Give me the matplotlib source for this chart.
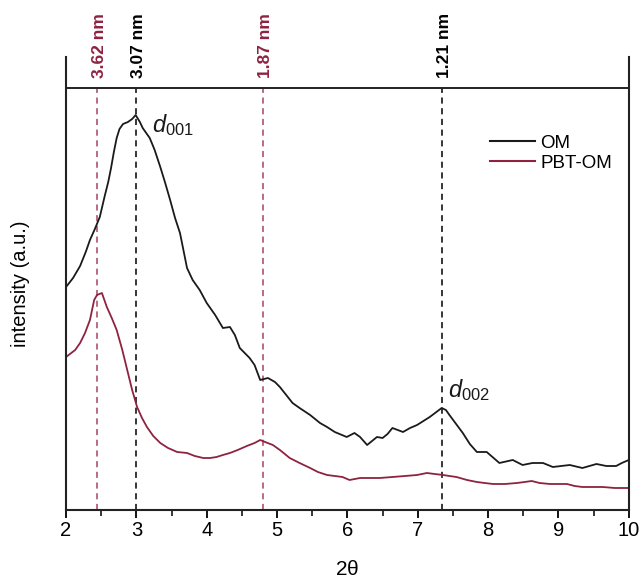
import matplotlib
matplotlib.use('Agg')
import matplotlib.pyplot as plt

plt.rcParams['font.family'] = ['Liberation Sans', 'DejaVu Sans']
plt.rcParams['mathtext.fontset'] = 'custom'
plt.rcParams['mathtext.rm'] = 'Liberation Sans'
plt.rcParams['mathtext.it'] = 'Liberation Sans:italic'

# OM (black) diffractogram
om_2theta = [2.00, 2.10, 2.20, 2.28, 2.34, 2.41, 2.48, 2.55, 2.60, 2.64, 2.68, 2.72,
             2.76, 2.81, 2.88, 2.94,
             2.99, 3.05, 3.09, 3.19, 3.26, 3.34, 3.41, 3.48, 3.55, 3.62, 3.72, 3.80,
             3.90, 4.00, 4.12, 4.23, 4.33, 4.40, 4.47, 4.61, 4.68, 4.76, 4.87, 4.97,
             5.04, 5.22, 5.32, 5.47, 5.61, 5.71, 5.82, 5.99, 6.10, 6.18, 6.28, 6.35,
             6.42, 6.50, 6.57, 6.64, 6.79, 6.89, 6.99, 7.17, 7.34, 7.40, 7.45, 7.64,
             7.74, 7.84, 7.98, 8.16, 8.35, 8.49, 8.63, 8.78, 8.92, 9.16, 9.34, 9.54,
             9.68, 9.82, 9.90, 10.00]
om_int = [223, 232, 244, 258, 270, 281, 293, 314, 328, 342, 358, 372,
          381, 386, 388, 391,
          395, 388, 382, 372, 360, 343, 327, 310, 292, 277, 242, 230,
          220, 207, 195, 182, 183, 175, 162, 152, 145, 130, 132, 128,
          123, 107, 102, 95, 87, 83, 78, 73, 77, 73, 65, 69,
          73, 72, 76, 82, 78, 82, 85, 93, 102, 100, 95, 77,
          66, 58, 58, 47, 50, 45, 47, 47, 43, 45, 42, 46,
          44, 44, 47, 50]

# PBT-OM (red) diffractogram
pbt_2theta = [2.00, 2.13, 2.20, 2.27, 2.34, 2.40, 2.44, 2.51, 2.58, 2.65, 2.72, 2.80,
              2.87, 2.94, 3.01, 3.08, 3.15, 3.24, 3.34, 3.45, 3.58, 3.72, 3.83, 3.95,
              4.05, 4.14, 4.23, 4.33, 4.44, 4.57, 4.68, 4.76, 4.83, 4.94, 5.04, 5.18,
              5.32, 5.47, 5.58, 5.71, 5.82, 5.93, 6.03, 6.18, 6.32, 6.46, 6.64, 6.82,
              6.99, 7.13, 7.24, 7.36, 7.45, 7.55, 7.70, 7.84, 7.95, 8.07, 8.24, 8.41,
              8.52, 8.62, 8.73, 8.88, 8.99, 9.12, 9.23, 9.34, 9.49, 9.63, 9.80, 10.00]
pbt_int = [153, 160, 167, 177, 190, 210, 215, 217, 203, 192, 180, 160,
           140, 120, 103, 92, 83, 74, 67, 62, 58, 57, 54, 52,
           52, 53, 55, 57, 60, 64, 67, 70, 68, 65, 60, 52,
           47, 42, 38, 35, 34, 33, 30, 32, 32, 32, 33, 34,
           35, 37, 36, 35, 34, 33, 30, 28, 27, 26, 26, 27,
           28, 29, 27, 26, 26, 26, 24, 23, 23, 23, 22, 22]

# reflections marked with dashed lines
peak_2theta = [2.44, 2.99, 4.80, 7.34]
peak_labels = ['3.62 nm', '3.07 nm', '1.87 nm', '1.21 nm']
red = '#8e2340'
red_dash = '#a3465f'
peak_colors = [red_dash, 'black', red_dash, 'black']
label_colors = [red, 'black', red, 'black']

y_top = 453
y_band = 422

fig = plt.figure(figsize=(6.41, 5.8), dpi=100)
ax = fig.add_axes([0.103, 0.1207, 0.878, 0.781])

for x, c in zip(peak_2theta, peak_colors):
    ax.vlines(x, 0, y_band, colors=c, linestyles=(0, (4, 3)), lw=1.1)

ax.plot(om_2theta, om_int, color='#1a1a1a', lw=1.3, label='OM',
        solid_joinstyle='round')
ax.plot(pbt_2theta, pbt_int, color=red, lw=1.3, label='PBT-OM',
        solid_joinstyle='round')

ax.axhline(y_band, color='#222222', lw=1.4)

for x, lab, c in zip(peak_2theta, peak_labels, label_colors):
    ax.text(x + 0.04, y_band + 10, lab, rotation=90, ha='center', va='bottom',
            color=c, fontsize=12.5, fontweight='bold')

ax.text(3.22, 378, r'$d_{\mathrm{001}}$', fontsize=17, color='#1a1a1a')
ax.text(7.43, 113, r'$d_{\mathrm{002}}$', fontsize=17, color='#1a1a1a')

ax.set_xlim(2, 10)
ax.set_ylim(0, y_top)
ax.set_xticks(range(2, 11))
ax.set_xticks([2.5 + i for i in range(8)], minor=True)
ax.set_yticks([])
ax.tick_params(axis='x', which='major', direction='out', length=6, width=1.3,
               labelsize=14.5, pad=2)
ax.tick_params(axis='x', which='minor', direction='out', length=4, width=1.1)
ax.spines['top'].set_visible(False)
for s in ['left', 'right', 'bottom']:
    ax.spines[s].set_linewidth(1.5)
    ax.spines[s].set_color('#222222')

ax.set_xlabel(r'2$\mathrm{\theta}$', fontsize=15, labelpad=14)
ax.set_ylabel('intensity (a.u.)', fontsize=14.5, labelpad=26)

leg = ax.legend(loc='upper left', bbox_to_anchor=(0.74, 0.845), frameon=False,
                fontsize=13.5, handlelength=2.4, handletextpad=0.3,
                labelspacing=0.15, borderaxespad=0)
for line in leg.get_lines():
    line.set_linewidth(1.5)

fig.savefig('out.png', dpi=100)
